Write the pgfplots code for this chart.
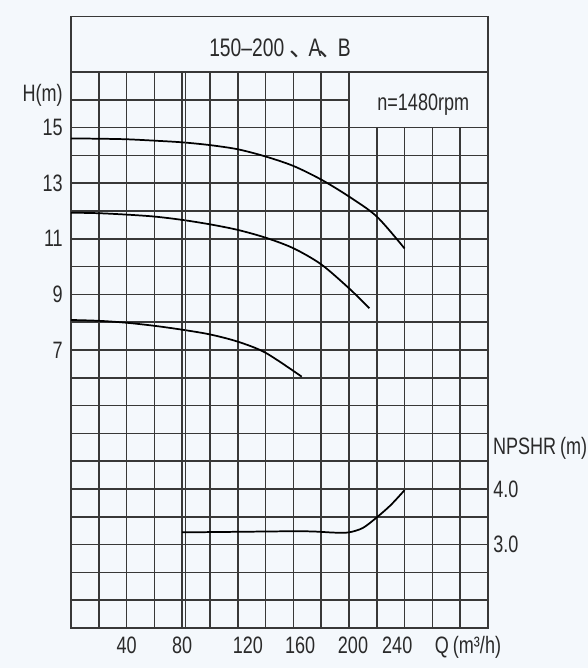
\documentclass[border=0pt]{standalone}
\usepackage{pgfplots}
\pgfplotsset{compat=1.18}
\usepackage{fontspec}
\setmainfont{Liberation Sans}
\newfontfamily\cad[FakeStretch=0.76]{Liberation Sans}
\newfontfamily\cjk{Noto Sans CJK SC}
\definecolor{bgc}{HTML}{F4F8FC}
\definecolor{gridc}{HTML}{383838}
\definecolor{txtc}{HTML}{2A2A2A}
\newcommand{\lblfont}{\cad\fontsize{17.8}{20}\selectfont}
\begin{document}
\begin{tikzpicture}
\fill[bgc] (-53.25pt,-30pt) rectangle (387.75pt,471pt);
\useasboundingbox (-53.25pt,-30pt) rectangle (387.75pt,471pt);
\begin{axis}[
  at={(0pt,0pt)}, anchor=south west,
  scale only axis, width=312.75pt, height=417pt,
  xmin=0, xmax=300, ymin=-3, ymax=17,
  xtick={40,80,120,160,200,240},
  xticklabels={40,80,\hspace*{15pt}120,\hspace*{10pt}160,\hspace*{6pt}200,240\hspace*{11pt}},
  minor xtick={0,20,...,300},
  ytick={7,9,11,13,15}, yticklabels={7,9,11,13,15},
  minor ytick={-3,-2,...,17},
  grid=both,
  major grid style={gridc, line width=1.1pt},
  minor grid style={gridc, line width=1.1pt},
  major tick length=0pt, minor tick length=0pt,
  axis line style={gridc, line width=1.1pt},
  ticklabel style={font=\lblfont, inner sep=0pt, text=txtc},
  xticklabel style={anchor=base, yshift=-19pt},
  yticklabel style={anchor=east, xshift=-6pt},
  clip=false,
]
\addplot[black, line width=1.3pt, smooth] coordinates {
 (0,14.61) (20,14.60) (40,14.58) (60,14.53) (80,14.47) (100,14.37) (120,14.22)
 (140,13.96) (160,13.62) (180,13.13) (200,12.52) (220,11.8) (240,10.65)};
\addplot[black, line width=1.3pt, smooth] coordinates {
 (0,11.94) (20,11.92) (40,11.87) (60,11.8) (80,11.68) (100,11.52) (120,11.32)
 (140,11.04) (160,10.66) (180,10.08) (200,9.22) (214.7,8.5)};
\addplot[black, line width=1.3pt, smooth] coordinates {
 (0,8.08) (20,8.05) (40,7.98) (60,7.87) (80,7.73) (100,7.56) (120,7.3)
 (140,6.9) (166,6.04)};
\fill[bgc] (axis cs:200,15) rectangle (axis cs:300,17);
\draw[gridc, line width=1.1pt] (axis cs:200,15) rectangle (axis cs:300,17);
\draw[gridc, line width=1.1pt] (axis cs:82.5,-3) -- (axis cs:82.5,17);
\draw[gridc, line width=1.1pt] (axis cs:0,17) rectangle (axis cs:300,19);
\end{axis}
\begin{axis}[
  at={(0pt,0pt)}, anchor=south west,
  scale only axis, width=312.75pt, height=417pt,
  xmin=0, xmax=300, ymin=1.5, ymax=11.5,
  axis line style={draw=none},
  xtick=\empty, ytick={3,4}, yticklabels={3.0,4.0},
  yticklabel pos=right,
  major tick length=0pt, minor tick length=0pt,
  ticklabel style={font=\lblfont, inner sep=0pt, text=txtc},
  yticklabel style={anchor=west, xshift=3.75pt},
  clip=false,
]
\addplot[black, line width=1.3pt, smooth] coordinates {
 (80,3.22) (120,3.23) (160,3.24) (175,3.235) (190,3.215) (200,3.22) (210,3.30)
 (220,3.49) (230,3.71) (240,3.98)};
\end{axis}
\begin{scope}[text=txtc]
\node[font=\cad\fontsize{19}{22}\selectfont, anchor=base, inner sep=0pt] at (156.75pt,428.5pt) {150–200 {\cjk 、}\kern-0.25em A\kern-0.1em{\cjk 、}\kern-0.25em B};
\node[font=\lblfont, anchor=base, inner sep=0pt] at (264.2pt,388pt) {n=1480rpm};
\node[font=\lblfont, anchor=east, inner sep=0pt] at (-6pt,399.75pt) {H(m)};
\node[font=\lblfont, anchor=west, inner sep=0pt] at (316.3pt,135pt) {NPSHR\,(m)};
\node[font=\lblfont, anchor=base, inner sep=0pt] at (297.75pt,-19pt) {Q\,(m³/h)};
\end{scope}
\end{tikzpicture}
\end{document}
